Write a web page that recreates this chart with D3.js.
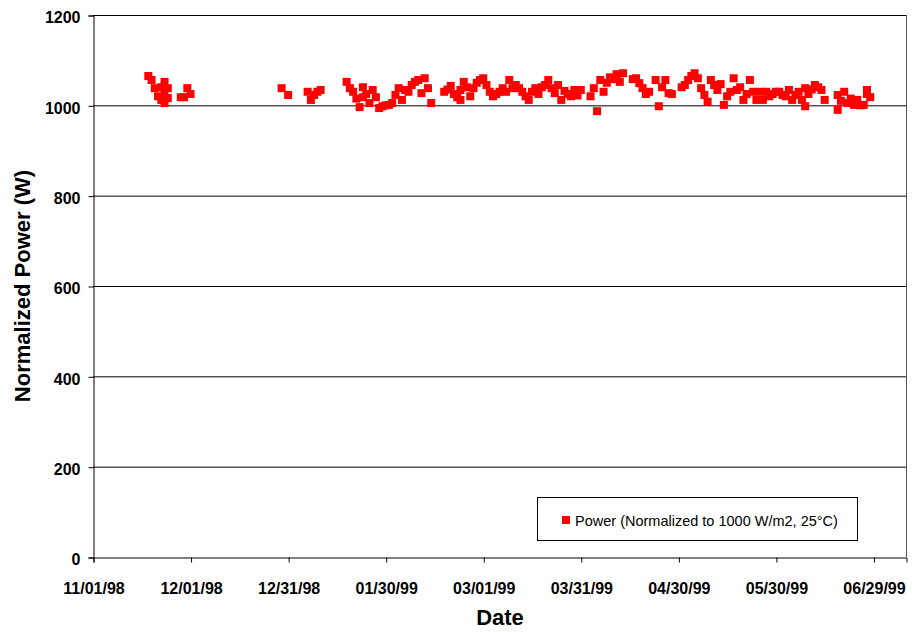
<!DOCTYPE html>
<html>
<head>
<meta charset="utf-8">
<script src="https://cdn.jsdelivr.net/npm/d3@7"></script>
<style>
  html, body { margin: 0; padding: 0; background: #fff; }
  svg { display: block; font-family: Arial, "Liberation Sans", sans-serif; }
</style>
</head>
<body>
<svg id="chart" width="912" height="632"></svg>
<script>
// ---- data ----
const dates = [
  "1998-11-18","1998-11-19","1998-11-20","1998-11-21","1998-11-22","1998-11-23","1998-11-23","1998-11-23","1998-11-24","1998-11-24",
  "1998-11-28","1998-11-29","1998-11-30","1998-12-01",
  "1998-12-29","1998-12-31","1999-01-06","1999-01-07","1999-01-08","1999-01-09","1999-01-10",
  "1999-01-18","1999-01-19","1999-01-20","1999-01-22","1999-01-23","1999-01-23","1999-01-26","1999-01-27","1999-01-28","1999-01-29",
  "1999-01-31","1999-02-01","1999-02-02","1999-02-03","1999-02-04","1999-02-05","1999-02-07","1999-02-08","1999-02-09","1999-02-10",
  "1999-02-11","1999-02-12","1999-02-13","1999-02-17","1999-02-19","1999-02-21","1999-02-22","1999-02-22","1999-02-23","1999-02-25",
  "1999-02-26","1999-02-27","1999-02-28","1999-03-01","1999-03-03","1999-03-04","1999-03-07","1999-03-08","1999-03-09","1999-03-10",
  "1999-03-12","1999-03-13","1999-03-15","1999-03-17","1999-03-18","1999-03-19","1999-03-21","1999-03-22","1999-03-23","1999-03-24",
  "1999-03-25","1999-03-26","1999-03-28","1999-03-29","1999-03-31","1999-04-03","1999-04-04","1999-04-05","1999-04-06","1999-04-07",
  "1999-04-09","1999-04-10","1999-04-11","1999-04-12","1999-04-13","1999-04-17","1999-04-18","1999-04-19","1999-04-20","1999-04-23",
  "1999-04-24","1999-04-26","1999-04-27","1999-05-02","1999-05-03","1999-05-05","1999-05-06","1999-05-07","1999-05-08","1999-05-09",
  "1999-05-10","1999-05-12","1999-05-13","1999-05-14","1999-05-15","1999-05-17","1999-05-18","1999-05-19","1999-05-20","1999-05-22",
  "1999-05-23","1999-05-24","1999-05-25","1999-05-26","1999-05-27","1999-05-30","1999-06-01","1999-06-03","1999-06-04","1999-06-05",
  "1999-06-07","1999-06-08","1999-06-08","1999-06-11","1999-06-13","1999-06-14","1999-06-18","1999-06-18","1999-06-20","1999-06-21",
  "1999-06-23","1999-06-26","1999-06-27","1999-06-28",
  // additional readings
  "1998-11-22","1999-01-21","1999-01-24","1999-01-25","1999-01-30","1999-02-06","1999-02-18","1999-02-20","1999-02-24","1999-03-02",
  "1999-03-05","1999-03-06","1999-03-11","1999-03-14","1999-03-16","1999-03-20","1999-03-27","1999-03-30","1999-04-08","1999-04-16",
  "1999-04-21","1999-04-25","1999-04-28","1999-05-01","1999-05-04","1999-05-11","1999-05-16","1999-05-21","1999-05-28","1999-05-29",
  "1999-05-31","1999-06-02","1999-06-06","1999-06-09","1999-06-10","1999-06-12","1999-06-19","1999-06-22","1999-06-24","1999-06-25",
  "1999-06-27"
];
const power = [
  1065,1056,1038,1020,1012,1005,1052,1025,1038,1016,
  1018,1018,1038,1025,
  1038,1023,1030,1012,1023,1030,1034,
  1052,1038,1030,996,1040,1018,1034,1018,994,998,
  1001,1005,1023,1038,1012,1034,1045,1052,1056,1027,
  1060,1038,1005,1030,1043,1018,1012,1034,1052,1020,
  1038,1050,1056,1060,1030,1020,1038,1030,1056,1038,
  1038,1030,1012,1038,1025,1040,1056,1038,1027,1045,
  1012,1032,1020,1034,1034,1020,1038,987,1056,1030,
  1062,1058,1069,1052,1071,1060,1049,1038,1025,1056,
  998,1056,1027,1045,1056,1071,1060,1038,1023,1008,
  1056,1034,1047,1001,1020,1060,1034,1040,1012,1056,
  1030,1012,1030,1012,1030,1030,1023,1034,1012,1023,
  1012,998,1038,1045,1034,1012,1023,990,1030,1005,
  1001,1001,1034,1018,
  // additional readings
  1040,1015,1025,1005,1000,1030,1035,1025,1040,1045,
  1025,1030,1045,1020,1030,1045,1025,1022,1050,1058,
  1030,1040,1025,1040,1065,1045,1030,1025,1020,1025,
  1030,1020,1030,1025,1035,1040,1010,1015,1012,1000,
  1025
];
const xTickLabels = ["11/01/98","12/01/98","12/31/98","01/30/99","03/01/99","03/31/99","04/30/99","05/30/99","06/29/99"];
const yTicks = [0,200,400,600,800,1000,1200];
const xDomain = ["1998-11-01","1999-07-09"];
const seriesName = "Power (Normalized to 1000 W/m2, 25\u00B0C)";

// ---- layout ----
const svg = d3.select("#chart");
const pL = 93, pR = 906, pT = 15, pB = 557;
const parseISO = d3.utcParse("%Y-%m-%d");
const parseTick = d3.utcParse("%m/%d/%y");
const fmtTick = d3.utcFormat("%m/%d/%y");

const x = d3.scaleUtc().domain(xDomain.map(parseISO)).range([pL, pR]);
const y = d3.scaleLinear().domain([0, 1200]).range([pB, pT]);

// gridlines
svg.append("g").selectAll("line").data(yTicks.filter(v => v > 0)).join("line")
  .attr("x1", pL).attr("x2", pR)
  .attr("y1", d => y(d) + 0.5).attr("y2", d => y(d) + 0.5)
  .attr("stroke", "#000").attr("stroke-width", 1);

// right border
svg.append("line").attr("x1", pR + 0.5).attr("x2", pR + 0.5)
  .attr("y1", pT).attr("y2", pB).attr("stroke", "#555").attr("stroke-width", 1);

// axes
const yAxis = d3.axisLeft(y).tickValues(yTicks).tickSize(5).tickPadding(8).tickFormat(d3.format("d"));
const gy = svg.append("g").attr("transform", `translate(${pL + 0.5},0.5)`).call(yAxis);
gy.selectAll("text").attr("dy", "0.45em").style("font-size", "16px").style("font-weight", "bold").attr("fill", "#000");
gy.selectAll("line, path").attr("stroke", "#000");

const xAxis = d3.axisBottom(x).tickValues(xTickLabels.map(parseTick)).tickSize(5).tickPadding(20).tickFormat(fmtTick);
const gx = svg.append("g").attr("transform", `translate(0.5,${pB + 0.5})`).call(xAxis);
gx.selectAll("text").style("font-size", "16px").style("font-weight", "bold").attr("fill", "#000");
gx.selectAll("line, path").attr("stroke", "#000");

// markers
const ms = 8;
svg.append("g").selectAll("rect").data(dates.map((d, i) => ({ d: parseISO(d), v: power[i] }))).join("rect")
  .attr("x", p => x(p.d) - ms / 2).attr("y", p => y(p.v) - ms / 2)
  .attr("width", ms).attr("height", ms).attr("fill", "#ff0000");

// axis titles
svg.append("text").attr("x", 500).attr("y", 625).attr("text-anchor", "middle")
  .style("font-size", "22px").style("font-weight", "bold").text("Date");
svg.append("text").attr("transform", "translate(30,286) rotate(-90)").attr("text-anchor", "middle")
  .style("font-size", "22px").style("font-weight", "bold").text("Normalized Power (W)");

// legend
const lg = svg.append("g");
lg.append("rect").attr("x", 537.5).attr("y", 497.5).attr("width", 320).attr("height", 43)
  .attr("fill", "#fff").attr("stroke", "#000").attr("stroke-width", 1);
lg.append("rect").attr("x", 562).attr("y", 516).attr("width", 8).attr("height", 8).attr("fill", "#ff0000");
lg.append("text").attr("x", 575).attr("y", 526).style("font-size", "14.5px").text(seriesName);
</script>
</body>
</html>
